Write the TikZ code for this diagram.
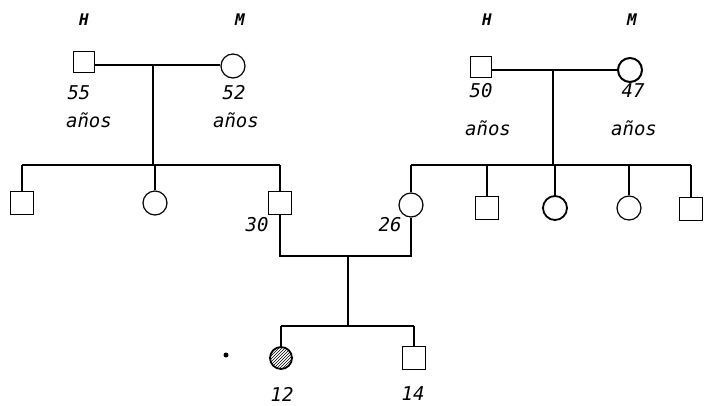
\documentclass[tikz,border=0pt]{standalone}
\usepackage{fontspec}
\newfontfamily\lblfont{DejaVu Sans Mono}
\usetikzlibrary{patterns}
\begin{document}
\begin{tikzpicture}[x=1pt,y=-1pt,line width=1.2pt,
  male/.style={draw,rectangle,minimum size=23pt,inner sep=0pt},
  female/.style={draw,circle,minimum size=24pt,inner sep=0pt},
  lbl/.style={font=\lblfont\itshape\fontsize{19}{19}\selectfont,inner sep=0pt},
  sex/.style={font=\lblfont\bfseries\itshape\fontsize{16}{16}\selectfont,inner sep=0pt},
  rel/.style={line width=1.1pt}]
\useasboundingbox (0,0) rectangle (705,405);
% left grandparents
\node[sex] (hL) at (84,20) {H};
\node[sex] (mL) at (240,20) {M};
\node[male,minimum size=21pt] (gfL) at (84,62) {};
\node[female] (gmL) at (233,66) {};
\node[lbl] (agfL) at (79,93) {55};
\node[lbl] (ygfL) at (89,120) {años};
\node[lbl] (agmL) at (234,93) {52};
\node[lbl] (ygmL) at (236,120) {años};
\coordinate (jL) at (153,65);
\coordinate (sL) at (153,165);
\draw[rel] (gfL.east |- jL) -- (jL) -- (gmL.west |- jL);
\draw[rel] (jL) -- (sL);
% left children
\node[male] (c1) at (22,203) {};
\node[female] (c2) at (155,203) {};
\node[male] (c3) at (280,203) {};
\node[lbl] (a30) at (257,225) {30};
\draw[rel] (c1.north |- sL) -- (c3.north |- sL);
\draw[rel] (c1.north |- sL) -- (c1.north);
\draw[rel] (c2.north |- sL) -- (c2.north);
\draw[rel] (c3.north |- sL) -- (c3.north);
% right grandparents
\node[sex] (hR) at (487,20) {H};
\node[sex] (mR) at (632,20) {M};
\node[male,minimum size=21pt] (gfR) at (481,67) {};
\node[female,line width=2pt] (gmR) at (630,70) {};
\node[lbl] (agfR) at (481,91) {50};
\node[lbl] (ygfR) at (488,128) {años};
\node[lbl] (agmR) at (633,91) {47};
\node[lbl] (ygmR) at (634,128) {años};
\coordinate (jR) at (553,70);
\coordinate (sR) at (553,165);
\draw[rel] (gfR.east |- jR) -- (jR) -- (gmR.west |- jR);
\draw[rel] (jR) -- (sR);
% right children
\node[female] (d1) at (411,205) {};
\node[male] (d2) at (487,208) {};
\node[female,line width=1.8pt] (d3) at (555,208) {};
\node[female] (d4) at (629,208) {};
\node[male] (d5) at (691,209) {};
\node[lbl] (a26) at (390,225) {26};
\draw[rel] (d1.north |- sR) -- (d5.north |- sR);
\foreach \n in {d1,d2,d3,d4,d5} \draw[rel] (\n.north |- sR) -- (\n.north);
% parents' union
\coordinate (jP) at (348,256);
\coordinate (sP) at (348,326);
\draw[rel] (c3.south) -- (c3.south |- jP) -- (d1.south |- jP) -- (d1.south);
\draw[rel] (jP) -- (sP);
% grandchildren
\node[female,minimum size=22pt,pattern=north east lines,pattern color=black,line width=1.8pt] (e1) at (281,358) {};
\node[male] (e2) at (414,358) {};
\node[lbl] (a12) at (282,394) {12};
\node[lbl] (a14) at (413,394) {14};
\draw[rel] (e1.north |- sP) -- (e2.north |- sP);
\draw[rel] (e1.north |- sP) -- (e1.north);
\draw[rel] (e2.north |- sP) -- (e2.north);
% index case mark
\fill (226,355) circle (2.5pt);
\end{tikzpicture}
\end{document}
